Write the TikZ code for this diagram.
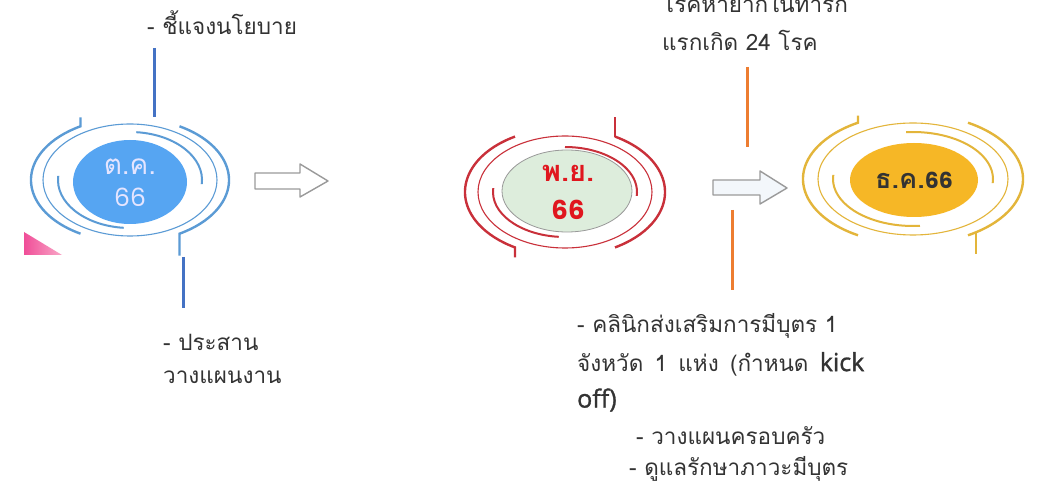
\documentclass[tikz,border=0pt]{standalone}
\usepackage{fontspec}
\usetikzlibrary{shapes.geometric}
\newfontfamily\thai[Script=Thai]{Loma}
\newfontfamily\latn[FakeBold=1.2]{Open Sans}
\newfontfamily\digits{Poppins}
\definecolor{blring}{HTML}{5B9BD5}
\definecolor{blfill}{HTML}{56A5F2}
\definecolor{blline}{HTML}{4472C4}
\definecolor{rdring}{HTML}{C9303A}
\definecolor{rdfill}{HTML}{DDEDDC}
\definecolor{rdtext}{HTML}{E0161E}
\definecolor{ylring}{HTML}{E3B53A}
\definecolor{ylfill}{HTML}{F6B726}
\definecolor{orline}{HTML}{ED7D31}
\definecolor{txt}{HTML}{333333}
\definecolor{arr}{HTML}{9A9A9A}
\definecolor{arrfill}{HTML}{F3F7FB}
\definecolor{pinkA}{HTML}{F04E98}
\definecolor{pinkB}{HTML}{F9A8C8}
\tikzset{
  thick ring/.style={line width=2.4pt},
  thin ring/.style={line width=1.1pt},
  inner ring/.style={line width=2pt},
  conn/.style={line width=3pt},
  label/.style={font=\thai\fontsize{22.5}{26}\selectfont, text=txt, anchor=west, inner sep=0pt},
  blockarrow/.style={draw=arr, line width=1.4pt, line join=round, fill=#1},
}
\newcommand\wsp{\hspace{0.5em}}
\begin{document}
\begin{tikzpicture}[x=1pt,y=-1pt]
\useasboundingbox (0,0) rectangle (1037,486);
\clip (0,0) rectangle (1037,486);
\fill[white] (0,0) rectangle (1037,486);

% ---------- circle 1 (blue) ----------
\coordinate (c1) at (130,180);
\draw[blring, thick ring] (c1) ++(120:99 and 62) arc[start angle=120, end angle=240, x radius=99, y radius=62] coordinate (c1tl) -- ++(0,-9);
\draw[blring, thick ring] (c1) ++(-60:99 and 62) coordinate (c1tr) arc[start angle=-60, end angle=60, x radius=99, y radius=62] coordinate (c1br) -- ++(0,22) coordinate (c1tick);
\draw[blring, thin ring] (c1) ellipse[x radius=87, y radius=56];
\draw[blring, inner ring] (c1) ++(-85:72 and 48) arc[start angle=-85, end angle=5, x radius=72, y radius=48];
\draw[blring, inner ring] (c1) ++(95:72 and 48) arc[start angle=95, end angle=185, x radius=72, y radius=48];
\node[ellipse, minimum width=114pt, minimum height=84pt, fill=blfill, inner sep=0pt] (oct) at (130,182) {};
\node[font=\thai\fontsize{28}{30}\selectfont, text=white!90!blue, inner sep=0pt] (octA) at (130,167) {ต.ค.};
\node[font=\digits\fontsize{25}{28}\selectfont, text=white!90!blue, inner sep=0pt] (octB) at (130,197) {66};

% pink triangle
\shade[left color=pinkA, right color=pinkB] (24,232) -- (24,255) -- (62,255) -- cycle;

% blue connectors and labels
\node[label] (t1) at (147,23) {- ชี้แจงนโยบาย};
\coordinate (b1a) at (154,48);
\coordinate (b1b) at (154,117);
\draw[blline, conn] (b1a) -- (b1b);
\coordinate (b2a) at (183,257);
\coordinate (b2b) at (183,308);
\draw[blline, conn] (b2a) -- (b2b);
\node[label] (t2) at (163,342) {- ประสาน};
\node[label] (t3) at (163,377) {วางแผนงาน};

% arrow 1
\draw[blockarrow=white] (255,173) -- (300,173) -- (300,164) -- (328,181) -- (300,197) -- (300,189) -- (255,189) -- cycle;

% ---------- circle 2 (red) ----------
\coordinate (c2) at (565,192);
\draw[rdring, thick ring] (c2) ++(240:100 and 64) arc[start angle=240, end angle=120, x radius=100, y radius=64] -- ++(0,10);
\draw[rdring, thick ring] (c2) ++(-60:100 and 64) coordinate (c2tr) arc[start angle=-60, end angle=60, x radius=100, y radius=64];
\draw[rdring, thick ring] (c2tr) -- ++(0,-20);
\draw[rdring, thin ring] (c2) ellipse[x radius=87, y radius=56];
\draw[rdring, inner ring] (c2) ++(-90:72 and 45) arc[start angle=-90, end angle=5, x radius=72, y radius=45];
\draw[rdring, inner ring] (c2) ++(95:72 and 45) arc[start angle=95, end angle=185, x radius=72, y radius=45];
\node[ellipse, minimum width=130pt, minimum height=82pt, fill=rdfill, draw=gray!80, line width=0.8pt, inner sep=0pt] (nov) at (567,191) {};
\node[font=\thai\bfseries\fontsize{29}{30}\selectfont, text=rdtext, inner sep=0pt] (novA) at (568,173) {พ.ย.};
\node[font=\digits\bfseries\fontsize{26}{28}\selectfont, text=rdtext, inner sep=0pt] (novB) at (568,210) {66};

% orange connectors
\coordinate (o1a) at (747,67);
\coordinate (o1b) at (747,147);
\draw[orline, conn] (o1a) -- (o1b);
\coordinate (o2a) at (732,210);
\coordinate (o2b) at (732,290);
\draw[orline, conn] (o2a) -- (o2b);

% arrow 2
\draw[blockarrow=arrfill] (713,180) -- (760,180) -- (760,171) -- (787,188) -- (760,204) -- (760,195) -- (713,195) -- cycle;

% ---------- circle 3 (yellow) ----------
\coordinate (c3) at (913,179);
\draw[ylring, thick ring] (c3) ++(120:110 and 65) arc[start angle=120, end angle=240, x radius=110, y radius=65] -- ++(0,-7);
\draw[ylring, thick ring] (c3) ++(-60:110 and 65) arc[start angle=-60, end angle=60, x radius=110, y radius=65];
\draw[ylring, thick ring] (c3) ++(55:110 and 65) -- ++(0,22);
\draw[ylring, thin ring] (c3) ellipse[x radius=95, y radius=56];
\draw[ylring, inner ring] (c3) ++(-95:80 and 47) arc[start angle=-95, end angle=5, x radius=80, y radius=47];
\draw[ylring, inner ring] (c3) ++(85:80 and 47) arc[start angle=85, end angle=185, x radius=80, y radius=47];
\node[ellipse, minimum width=128pt, minimum height=74pt, fill=ylfill, inner sep=0pt,
      font=\thai\bfseries\fontsize{27}{30}\selectfont, text=txt] (dec) at (914,180) {ธ.ค.{\digits\bfseries\fontsize{22}{26}\selectfont 66}};

% top-right text
\node[label] (r1) at (662,2) {โรคหายากในทารก};
\node[label] (r2) at (662,40) {แรกเกิด 24 โรค};

% bottom text
\node[label] (k1) at (577,326) {- คลินิกส่งเสริมการมีบุตร 1};
\node[label] (k2) at (577,364) {จังหวัด\wsp 1\wsp แห่ง\wsp (กำหนด\wsp{\latn\fontsize{25}{28}\selectfont kick}};
\node[label, font=\latn\fontsize{25}{28}\selectfont] (k3) at (577,400) {off)};
\node[label] (k4) at (636,436) {- วางแผนครอบครัว};
\node[label] (k5) at (629,469) {- ดูแลรักษาภาวะมีบุตร};
\end{tikzpicture}
\end{document}
